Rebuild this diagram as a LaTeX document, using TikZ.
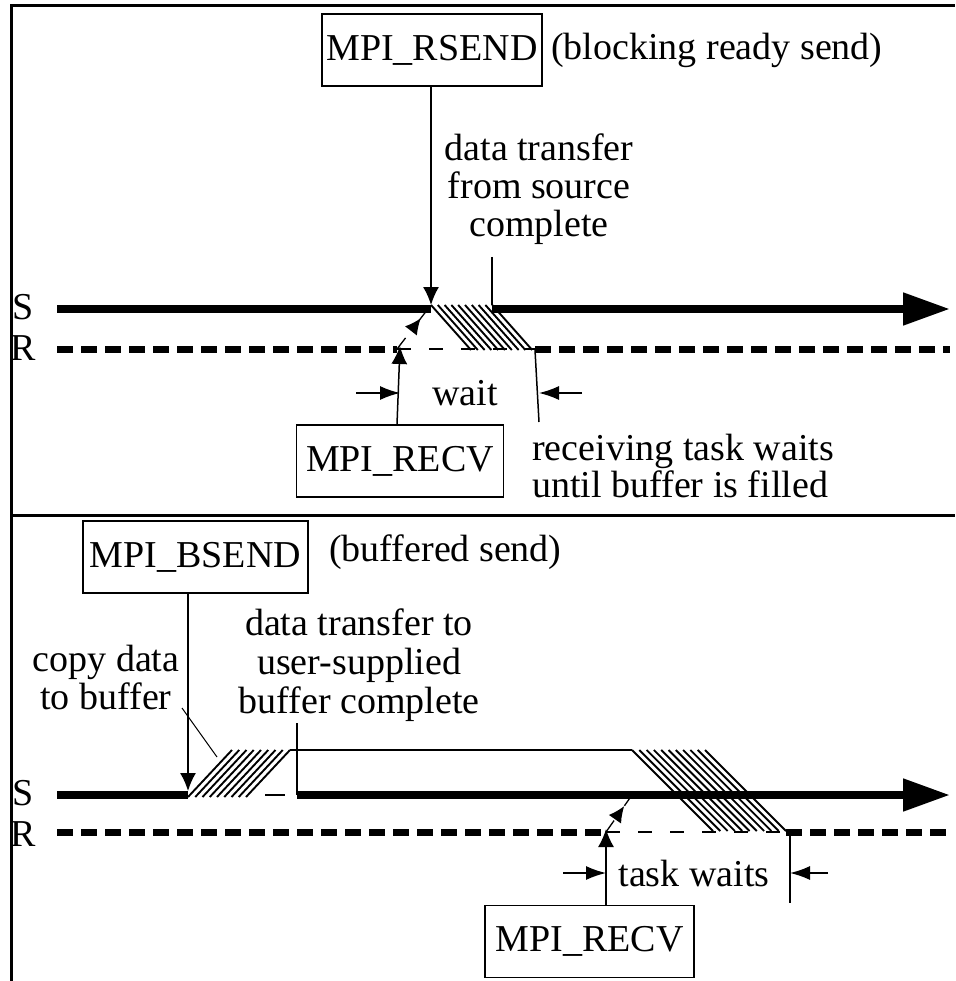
\documentclass[tikz,border=0pt]{standalone}
\usepackage{fontspec}
\setmainfont{Liberation Serif}
\usetikzlibrary{arrows.meta,decorations.markings}

\begin{document}
\begin{tikzpicture}[x=1pt,y=-1pt,
  every node/.style={font=\fontsize{38}{38}\selectfont, inner sep=0pt},
  callbox/.style={draw, line width=1.6pt, minimum height=72pt, inner sep=0pt},
  frame/.style={line width=3pt},
  sendline/.style={line width=8pt},
  recvline/.style={line width=7pt, dash pattern=on 16pt off 8pt},
  waitline/.style={line width=1.3pt, dash pattern=on 14pt off 18pt},
  thinline/.style={line width=1.5pt},
  leader/.style={line width=1pt},
  ptr/.style={thinline, -{Latex[length=18pt,width=16pt]}},
  dimarrow/.style={thinline, -{Latex[length=20pt,width=14pt]}},
  hatch/.style={line width=1.9pt},
  bigtip/.style={-{Triangle[length=47pt,width=31pt]}},
  readyarrow/.style={waitline, postaction={decorate},
    decoration={markings, mark=at position 0.7 with {\arrow{Latex[length=16pt,width=15pt]}}}}
]
\useasboundingbox (0,0) rectangle (955,981);

% outer frame and panel separator
\draw[frame] (11,981) -- (11,6) -- (955,6);
\draw[frame] (11,515) -- (955,515);

% ---------------- ready send ----------------
\node[callbox, minimum width=220pt] (rsend) at (432,50) {MPI\_RSEND};
\node[anchor=west] (rsendnote) at (551,50) {(blocking ready send)};
\node (slabA) at (23,307) {S};
\node (rlabA) at (23,348) {R};

\coordinate (sA1) at (431,305);
\coordinate (sA2) at (492,305);
\coordinate (rA1) at (397,349);
\coordinate (rA2) at (535,349);

\draw[sendline] (57,309) -- (431,309);
\draw[sendline, bigtip] (492,309) -- (950,309);
\draw[recvline] (57,349) -- (rA1);
\draw[waitline] (rA1) -- (rA2);
\draw[recvline] (rA2) -- (950,349);

\foreach \i in {0,...,9}
  \draw[hatch] ({431+\i*6.8},305) -- ({471+\i*6.8},350);

\draw[ptr] (rsend.south -| sA1) -- (sA1);
\draw[thinline] (492,257) -- (sA2);
\draw[readyarrow] (rA1) -- (sA1);

\node (donenoteA) [align=center] at (539,189) {data transfer\\from source\\complete};

\node[callbox, minimum width=207pt] (recvA) at (400,461) {MPI\_RECV};
\draw[ptr] (recvA.north -| rA1) -- ([yshift=3pt]rA1 -| recvA.north);
\node (waitA) at (465,393) {wait};
\coordinate (wA) at (539,422);
\draw[thinline] (rA2 |- 0,350) -- (wA);
\draw[dimarrow] (356,393) -- (400,393);
\draw[dimarrow] (582,393) -- (539,393);
\node[anchor=west, align=left, font=\fontsize{38}{37}\selectfont] (recvnoteA) at (532,466)
  {receiving task waits\\until buffer is filled};

% ---------------- buffered send ----------------
\node[callbox, minimum width=225pt] (bsend) at (195.5,557) {MPI\_BSEND};
\node[anchor=west] (bsendnote) at (329,552) {(buffered send)};
\node (slabB) at (23,793) {S};
\node (rlabB) at (23,834) {R};

\coordinate (sB1) at (188,791);
\coordinate (sB2) at (297,795);
\coordinate (bufL) at (290,750);
\coordinate (bufR) at (632,750);
\coordinate (rB1) at (606,832);
\coordinate (rB2) at (786,832);
\coordinate (sB3) at (632,795);

\draw[sendline] (57,795) -- (188,795);
\draw[thinline] (265,795) -- (285,795);
\draw[sendline, bigtip] (sB2) -- (950,795);
\draw[recvline] (57,832) -- (rB1);
\draw[waitline] (rB1) -- (rB2);
\draw[recvline] (rB2) -- (950,832);

% copy into the user buffer
\foreach \i in {0,...,8}
  \draw[hatch] ({188+\i*7.25},797) -- ({232+\i*7.25},750);
\draw[thinline] (bufL) -- (bufR);
% transfer out of the user buffer
\foreach \i in {0,...,10}
  \draw[hatch] ({632+\i*7.3},750) -- ({713+\i*7.3},831);

\draw[ptr] (bsend.south -| sB1) -- (sB1);
\draw[thinline] (297,723) -- (sB2);
\draw[readyarrow] (rB1) -- (sB3);

\node (copynote) [align=center] at (106,677) {copy data\\to buffer};
\draw[leader] (182,708) -- (217,757);
\node (donenoteB) [align=center, font=\fontsize{38}{39}\selectfont] at (359,665)
  {data transfer to\\user-supplied\\buffer complete};

\node[callbox, minimum width=209pt] (recvB) at (589.5,941.5) {MPI\_RECV};
\draw[ptr] (recvB.north -| rB1) -- ([yshift=3pt]rB1);
\node (waitB) at (694,873) {task waits};
\coordinate (wB) at (790,903);
\draw[thinline] (790,832) -- (wB);
\draw[dimarrow] (563,873) -- (606,873);
\draw[dimarrow] (828,873) -- (790,873);
\end{tikzpicture}
\end{document}
